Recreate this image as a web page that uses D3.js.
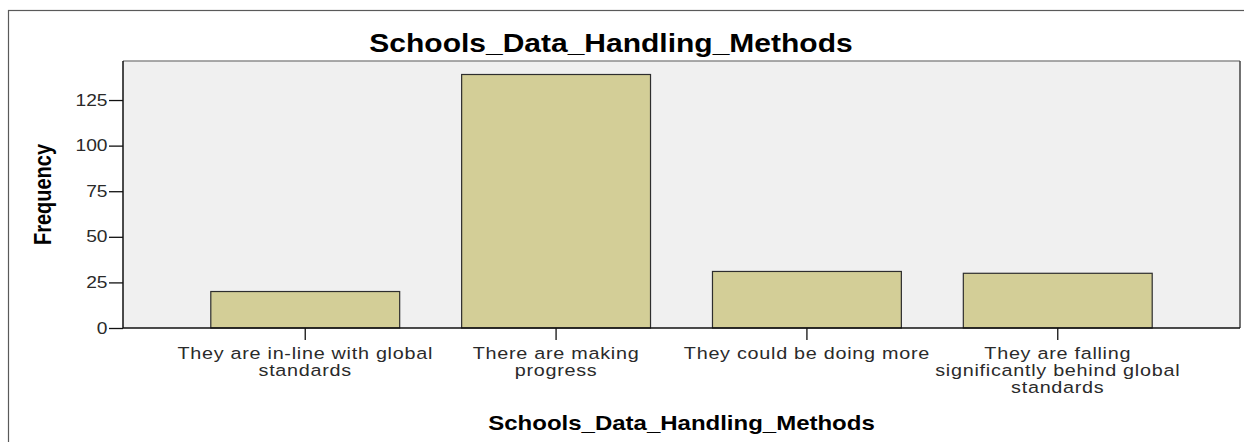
<!DOCTYPE html>
<html>
<head>
<meta charset="utf-8">
<script src="https://cdn.jsdelivr.net/npm/d3@7"></script>
<style>
  html, body { margin: 0; padding: 0; background: #ffffff; }
  svg { display: block; font-family: "Liberation Sans", Arial, sans-serif; }
</style>
</head>
<body>
<svg id="chart" width="1244" height="442"></svg>
<script>
// Frequencies of responses about how schools handle data
const categories = [
  "They are in-line with global standards",
  "There are making progress",
  "They could be doing more",
  "They are falling significantly behind global standards"
];
const categoryLines = [
  ["They are in-line with global", "standards"],
  ["There are making", "progress"],
  ["They could be doing more"],
  ["They are falling", "significantly behind global", "standards"]
];
const frequencies = [20, 139, 31, 30];
const yTicks = [0, 25, 50, 75, 100, 125];
const yMax = 146.4;

const chartTitle = "Schools_Data_Handling_Methods";
const xTitle = "Schools_Data_Handling_Methods";
const yTitle = "Frequency";

// Layout
const plot = { left: 123, right: 1240, top: 61, bottom: 328 };
const stretch = 1.2;         // horizontal widening of the text glyphs

const svg = d3.select("#chart");

// Outer frame
svg.append("rect")
  .attr("x", 8.5).attr("y", 10.5)
  .attr("width", 1240).attr("height", 440)
  .attr("fill", "#ffffff")
  .attr("stroke", "#5a5a5a")
  .attr("stroke-width", 1.2);

const x = d3.scaleBand()
  .domain(categories)
  .range([plot.left, plot.right])
  .paddingInner(0.247)
  .paddingOuter(0.35);

const y = d3.scaleLinear()
  .domain([0, yMax])
  .range([plot.bottom, plot.top]);

// Plot background
svg.append("rect")
  .attr("x", plot.left).attr("y", plot.top)
  .attr("width", plot.right - plot.left)
  .attr("height", plot.bottom - plot.top)
  .attr("fill", "#f0f0f0");

// Top and right borders of the plot area
svg.append("line")
  .attr("x1", plot.left).attr("x2", plot.right)
  .attr("y1", plot.top).attr("y2", plot.top)
  .attr("stroke", "#8c8c8c").attr("stroke-width", 1.5);
svg.append("line")
  .attr("x1", plot.right).attr("x2", plot.right)
  .attr("y1", plot.top).attr("y2", plot.bottom)
  .attr("stroke", "#444").attr("stroke-width", 1.5);

// Bars
svg.append("g").selectAll("rect")
  .data(categories)
  .join("rect")
  .attr("x", d => x(d))
  .attr("y", (d, i) => y(frequencies[i]))
  .attr("width", x.bandwidth())
  .attr("height", (d, i) => y(0) - y(frequencies[i]))
  .attr("fill", "#d3ce97")
  .attr("stroke", "#2e2e2e")
  .attr("stroke-width", 1.2);

// Y axis
const yAxis = svg.append("g")
  .attr("transform", `translate(${plot.left},0)`)
  .call(d3.axisLeft(y).tickValues(yTicks).tickSize(14).tickPadding(2).tickSizeOuter(0));
yAxis.select(".domain").attr("stroke", "#111").attr("stroke-width", 1.5)
  .attr("d", `M0,${plot.top}V${plot.bottom}`);
yAxis.selectAll(".tick line").attr("stroke", "#111").attr("stroke-width", 1.3);
yAxis.selectAll(".tick text")
  .attr("font-size", 16)
  .attr("fill", "#2a2a2a")
  .attr("font-family", "Liberation Sans, Arial, sans-serif")
  .attr("x", -15.5 / stretch)
  .attr("transform", `scale(${stretch},1)`);

// X axis
const xAxis = svg.append("g")
  .attr("transform", `translate(0,${plot.bottom})`)
  .call(d3.axisBottom(x).tickSize(12).tickSizeOuter(0).tickFormat(""));
xAxis.select(".domain").attr("stroke", "#111").attr("stroke-width", 1.5)
  .attr("d", `M${plot.left},0H${plot.right}`);
xAxis.selectAll(".tick line").attr("stroke", "#111").attr("stroke-width", 1.3);

// Multi-line category labels
const labels = svg.append("g").selectAll("text")
  .data(categories)
  .join("text")
  .attr("transform", d => `translate(${x(d) + x.bandwidth() / 2},${plot.bottom + 31}) scale(${stretch},1)`)
  .attr("text-anchor", "middle")
  .attr("font-size", 16.5)
  .attr("letter-spacing", 0.6)
  .attr("fill", "#2a2a2a");
labels.each(function(d, i) {
  d3.select(this).selectAll("tspan")
    .data(categoryLines[i])
    .join("tspan")
    .attr("x", 0)
    .attr("dy", (t, j) => j === 0 ? 0 : 17)
    .text(t => t);
});

// Chart title
svg.append("text")
  .attr("transform", `translate(611,52) scale(${stretch},1)`)
  .attr("text-anchor", "middle")
  .attr("font-size", 25)
  .attr("font-weight", "bold")
  .attr("fill", "#000")
  .text(chartTitle);

// X axis title
svg.append("text")
  .attr("transform", `translate(${(plot.left + plot.right) / 2},430) scale(${stretch},1)`)
  .attr("text-anchor", "middle")
  .attr("font-size", 20)
  .attr("font-weight", "bold")
  .attr("fill", "#000")
  .text(xTitle);

// Y axis title
svg.append("text")
  .attr("transform", `translate(51,${(plot.top + plot.bottom) / 2}) rotate(-90) scale(1,${stretch})`)
  .attr("text-anchor", "middle")
  .attr("font-size", 20)
  .attr("font-weight", "bold")
  .attr("fill", "#000")
  .text(yTitle);
</script>
</body>
</html>
